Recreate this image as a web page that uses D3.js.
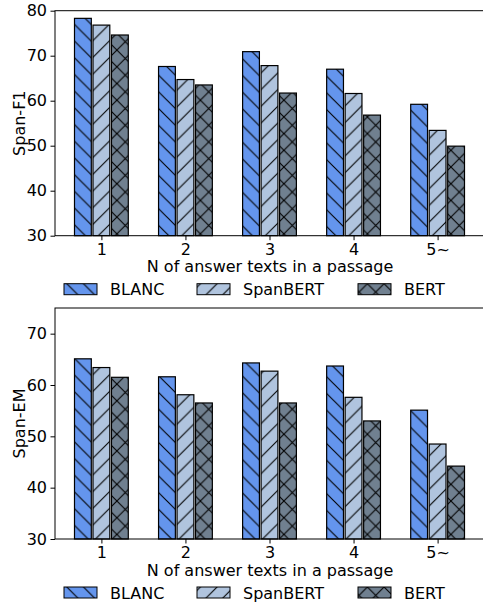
<!DOCTYPE html>
<html>
<head>
<meta charset="utf-8">
<script src="https://cdn.jsdelivr.net/npm/d3@7"></script>
<style>
  body { margin: 0; background: #fff; }
  svg { display: block; font-family: "DejaVu Sans", sans-serif; }
</style>
</head>
<body>
<svg id="chart" width="483" height="603"></svg>
<script>
const categories = ['1', '2', '3', '4', '5~'];
const seriesNames = ['BLANC', 'SpanBERT', 'BERT'];
const seriesColors = ['#6495ED', '#B0C4DE', '#708090'];
const seriesHatch = ['back', 'fwd', 'cross'];

const spanF1 = [
    [78.3, 67.6, 70.9, 67.0, 59.2],   // BLANC
    [76.8, 64.7, 67.8, 61.6, 53.4],   // SpanBERT
    [74.6, 63.5, 61.7, 56.8, 49.9],   // BERT
];
const spanEM = [
    [65.1, 61.6, 64.3, 63.7, 55.1],
    [63.4, 58.1, 62.7, 57.6, 48.5],
    [61.5, 56.5, 56.5, 53.0, 44.2],
];
const f1Ticks = [30, 40, 50, 60, 70, 80];
const emTicks = [30, 40, 50, 60, 70];

const svg = d3.select('#chart');
const defs = svg.append('defs');
const hatchSize = 16.7;
const fontSize = 16;

// hatch patterns share one origin so lines run on between neighbouring bars
seriesHatch.forEach((h, k) => {
    const s = hatchSize;
    const p = defs.append('pattern')
        .attr('id', 'hatch' + k)
        .attr('patternUnits', 'userSpaceOnUse')
        .attr('width', s)
        .attr('height', s);
    p.append('rect')
        .attr('width', s)
        .attr('height', s)
        .attr('fill', seriesColors[k]);
    const paths = [];
    if (h === 'back' || h === 'cross') {
        paths.push(`M${-s},${-s} L${2 * s},${2 * s} M${-s},0 L${s},${2 * s} M0,${-s} L${2 * s},${s}`);
    }
    if (h === 'fwd' || h === 'cross') {
        paths.push(`M${-s},${2 * s} L${2 * s},${-s} M${-s},${s} L${s},${-s} M0,${2 * s} L${2 * s},0`);
    }
    p.append('path')
        .attr('d', paths.join(' '))
        .attr('stroke', '#000')
        .attr('stroke-width', 1.1)
        .attr('fill', 'none');
});

const left = 55, right = 484;
const x = d3.scaleLinear().domain([-0.552, 4.552]).range([left, right]);
const barW = 0.2, barStep = 0.22;

function drawPanel(values, ticks, yMax, top, bottom, ylabel) {
    const y = d3.scaleLinear().domain([30, yMax]).range([bottom, top]);
    const g = svg.append('g');

    values.forEach((row, s) => {
        g.selectAll('.bar' + s)
            .data(row)
            .enter().append('rect')
            .attr('x', (d, i) => x(i + (s - 1) * barStep - barW / 2))
            .attr('width', x(barW) - x(0))
            .attr('y', d => y(d))
            .attr('height', d => y(30) - y(d))
            .attr('fill', `url(#hatch${s})`)
            .attr('stroke', '#000')
            .attr('stroke-width', 1.2);
    });

    // spines
    g.append('rect')
        .attr('x', left).attr('y', top)
        .attr('width', right - left).attr('height', bottom - top)
        .attr('fill', 'none').attr('stroke', '#000').attr('stroke-width', 1);

    const yAxis = g.append('g')
        .attr('transform', `translate(${left},0)`)
        .call(d3.axisLeft(y).tickValues(ticks).tickSize(4.5).tickPadding(3.5));
    yAxis.select('.domain').remove();
    yAxis.selectAll('text').attr('font-size', fontSize).attr('fill', '#000').attr('font-family', 'DejaVu Sans');

    const xAxis = g.append('g')
        .attr('transform', `translate(0,${bottom})`)
        .call(d3.axisBottom(x).tickValues(d3.range(categories.length))
            .tickFormat(i => categories[i]).tickSize(4.5).tickPadding(3));
    xAxis.select('.domain').remove();
    xAxis.selectAll('text').attr('font-size', fontSize).attr('fill', '#000').attr('font-family', 'DejaVu Sans');

    g.append('text')
        .attr('transform', `translate(25,${(top + bottom) / 2}) rotate(-90)`)
        .attr('text-anchor', 'middle')
        .attr('font-size', fontSize)
        .text(ylabel);

    g.append('text')
        .attr('x', 270)
        .attr('y', bottom + 36.5)
        .attr('text-anchor', 'middle')
        .attr('font-size', fontSize)
        .text('N of answer texts in a passage');

    // legend
    const legX = [64, 197, 358];
    const lg = g.append('g').attr('transform', `translate(0,${bottom + 48})`);
    seriesNames.forEach((name, k) => {
        lg.append('rect')
            .attr('x', legX[k]).attr('y', 0)
            .attr('width', 33).attr('height', 11)
            .attr('fill', `url(#hatch${k})`)
            .attr('stroke', '#000').attr('stroke-width', 1);
        lg.append('text')
            .attr('x', legX[k] + 46).attr('y', 11.5)
            .attr('font-size', fontSize)
            .text(name);
    });
}

drawPanel(spanF1, f1Ticks, 80, 10.7, 235.7, 'Span-F1');
drawPanel(spanEM, emTicks, 75, 308, 539, 'Span-EM');
</script>
</body>
</html>
